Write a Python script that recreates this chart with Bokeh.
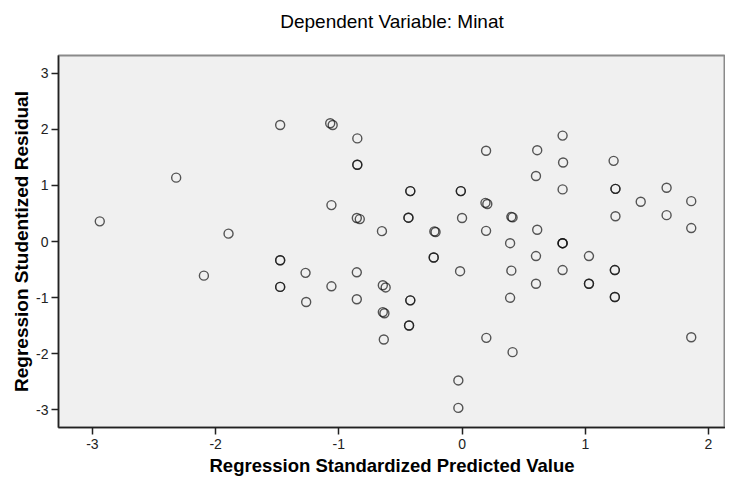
from bokeh.plotting import figure
from bokeh.models import Range1d, FixedTicker, Title
from bokeh.embed import file_html
from bokeh.resources import INLINE

# Regression Standardized Predicted Value (x) and Studentized Residual (y)
pred = [-2.94, -2.32, -2.095, -1.895, -1.476, -1.476, -1.476, -1.476, -1.476,
        -1.27, -1.265, -1.07, -1.05, -1.06, -1.06, -0.85, -0.85, -0.85,
        -0.854, -0.83, -0.854, -0.854, -0.65, -0.643, -0.62, -0.643, -0.63, -0.635,
        -0.42, -0.42, -0.435, -0.435, -0.42, -0.42, -0.43, -0.43,
        -0.225, -0.215, -0.23, -0.23, -0.01, -0.01, 0.0, -0.016, -0.03, -0.03,
        0.195, 0.19, 0.205, 0.195, 0.197, 0.40, 0.41, 0.39, 0.40, 0.39, 0.41,
        0.61, 0.60, 0.61, 0.60, 0.60, 0.816, 0.82, 0.816, 0.816, 0.816, 0.816, 0.816,
        1.03, 1.03, 1.03, 1.23, 1.245, 1.245, 1.245, 1.24, 1.24, 1.24, 1.24,
        1.45, 1.66, 1.66, 1.86, 1.86, 1.86]
resid = [0.36, 1.14, -0.61, 0.14, 2.08, -0.335, -0.335, -0.81, -0.81,
         -0.56, -1.08, 2.11, 2.08, 0.65, -0.80, 1.84, 1.37, 1.37,
         0.42, 0.40, -0.55, -1.03, 0.185, -0.78, -0.82, -1.26, -1.28, -1.75,
         0.90, 0.90, 0.425, 0.425, -1.05, -1.05, -1.50, -1.50,
         0.18, 0.17, -0.285, -0.285, 0.90, 0.90, 0.42, -0.53, -2.48, -2.97,
         1.62, 0.69, 0.67, 0.19, -1.72, 0.44, 0.43, -0.03, -0.52, -1.005, -1.975,
         1.63, 1.17, 0.21, -0.26, -0.755, 1.89, 1.41, 0.93, -0.03, -0.03, -0.03, -0.51,
         -0.26, -0.755, -0.755, 1.44, 0.94, 0.94, 0.45, -0.51, -0.51, -0.99, -0.99,
         0.71, 0.96, 0.47, 0.72, 0.24, -1.71]

x_ticks = [-3, -2, -1, 0, 1, 2]
y_ticks = [-3, -2, -1, 0, 1, 2, 3]

title_text = "Dependent Variable: Minat"
x_label = "Regression Standardized Predicted Value"
y_label = "Regression Studentized Residual"

FONT = "Liberation Sans"

p = figure(width=725, height=480, output_backend="svg", toolbar_location=None,
           x_range=Range1d(-3.275, 2.138), y_range=Range1d(-3.32, 3.32),
           min_border_left=58, min_border_right=0, min_border_top=55, min_border_bottom=53)

# empty spacer title keeps the real title higher above the frame
p.add_layout(Title(text=" ", text_font_size="7px"), "above")
t = Title(text=title_text, align="center", text_font=FONT, text_font_size="19px",
          text_font_style="normal", text_color="#000000")
p.add_layout(t, "above")

p.background_fill_color = "#F0F0F0"
p.border_fill_color = "white"
p.outline_line_color = "#8a8a8a"
p.outline_line_width = 2
p.grid.visible = False

for ax, ticks in ((p.xaxis[0], x_ticks), (p.yaxis[0], y_ticks)):
    ax.ticker = FixedTicker(ticks=ticks)
    ax.major_label_overrides = {v: str(v) for v in ticks}
    ax.minor_tick_line_color = None
    ax.major_tick_in = 0
    ax.major_tick_out = 7
    ax.major_tick_line_color = "#222222"
    ax.major_tick_line_width = 1.5
    ax.axis_line_color = "#222222"
    ax.axis_line_width = 1.5
    ax.major_label_text_font = FONT
    ax.major_label_text_font_size = "14px"
    ax.major_label_text_color = "#222222"
    ax.axis_label_text_font = FONT
    ax.axis_label_text_font_style = "bold"
    ax.axis_label_text_color = "#000000"

xa = p.xaxis[0]
xa.axis_label = x_label
xa.axis_label_text_font_size = "18.5px"
xa.major_label_standoff = 4
xa.axis_label_standoff = 3

ya = p.yaxis[0]
ya.axis_label = y_label
ya.axis_label_text_font_size = "19px"
ya.major_label_standoff = 3
ya.axis_label_standoff = 1

p.scatter(pred, resid, marker="circle", size=9, fill_color=None,
          line_color="#111111", line_alpha=0.7, line_width=1.4)

open("out.html", "w").write(file_html(p, INLINE))
